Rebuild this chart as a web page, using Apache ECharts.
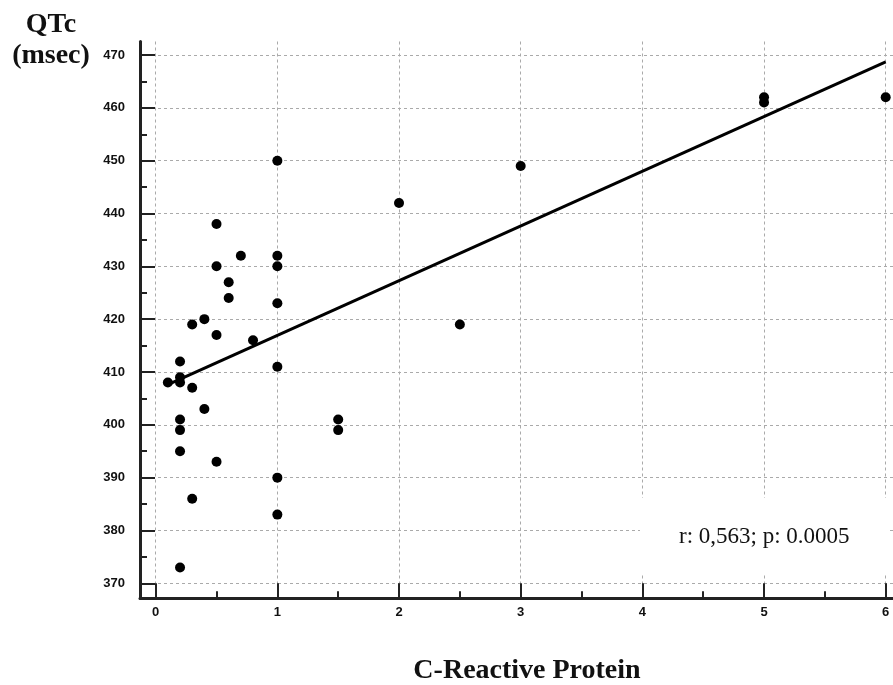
<!DOCTYPE html>
<html>
<head>
<meta charset="utf-8">
<script src="https://cdn.jsdelivr.net/npm/echarts@6/dist/echarts.min.js"></script>
<style>
  html, body { margin: 0; padding: 0; background: #fff; }
  #chart { width: 893px; height: 685px; }
</style>
</head>
<body>
<div id="chart"></div>
<script>
// CRP (mg/dl) vs QTc (msec)
const crp = [0.1, 0.2, 0.2, 0.2, 0.2, 0.2, 0.2, 0.2, 0.3, 0.3, 0.3, 0.4, 0.4,
  0.5, 0.5, 0.5, 0.5, 0.6, 0.6, 0.7, 0.8, 1, 1, 1, 1, 1, 1, 1, 1.5, 1.5, 2, 2.5, 3, 5, 5, 6];
const qtc = [408, 412, 409, 408, 401, 399, 395, 373, 419, 407, 386, 420, 403,
  438, 430, 417, 393, 427, 424, 432, 416, 450, 432, 430, 423, 411, 390, 383, 401, 399, 442, 419, 449, 462, 461, 462];

// regression line end points
const fitX = [0.1, 6];
const fitY = [407.6, 468.7];

// tick labels
const xTicks = [0, 1, 2, 3, 4, 5, 6];
const xMinor = [0.5, 1.5, 2.5, 3.5, 4.5, 5.5];
const yTicks = [370, 380, 390, 400, 410, 420, 430, 440, 450, 460, 470];
const yMinor = [375, 385, 395, 405, 415, 425, 435, 445, 455, 465];

const axisColor = "#222";
const gridLine = { show: true, lineStyle: { type: [3, 3], color: "#aaa", width: 1 } };
const labelFont = { fontFamily: "'Liberation Sans', Arial, sans-serif", fontWeight: "bold", fontSize: 13, color: "#111" };

const chart = echarts.init(document.getElementById("chart"));

const option = {
  backgroundColor: "#fff",
  animation: false,
  grid: { left: 140, right: 0, top: 41.5, bottom: 86.7 },
  xAxis: [
    {
      type: "value",
      min: -0.129,
      max: 6.06,
      axisLine: { onZero: false, lineStyle: { color: axisColor, width: 3 } },
      axisTick: { inside: true, length: 15, customValues: xTicks, lineStyle: { color: axisColor, width: 2 } },
      axisLabel: Object.assign({ customValues: xTicks, margin: 8 }, labelFont),
      splitLine: gridLine,
    },
    {
      // minor ticks only
      type: "value",
      position: "bottom",
      min: -0.129,
      max: 6.06,
      axisLine: { show: false, onZero: false },
      axisTick: { inside: true, length: 7, customValues: xMinor, lineStyle: { color: axisColor, width: 2 } },
      axisLabel: { show: false },
      splitLine: { show: false },
    },
  ],
  yAxis: [
    {
      type: "value",
      min: 367.16,
      max: 472.56,
      splitNumber: 10,
      axisLine: { show: true, onZero: false, lineStyle: { color: axisColor, width: 3 } },
      axisTick: { show: true, inside: true, length: 15, customValues: yTicks, lineStyle: { color: axisColor, width: 2 } },
      axisLabel: Object.assign({ customValues: yTicks, margin: 15 }, labelFont),
      splitLine: gridLine,
    },
    {
      // minor ticks only
      type: "value",
      position: "left",
      min: 367.16,
      max: 472.56,
      axisLine: { show: false, onZero: false },
      axisTick: { show: true, inside: true, length: 7, customValues: yMinor, lineStyle: { color: axisColor, width: 2 } },
      axisLabel: { show: false },
      splitLine: { show: false },
    },
  ],
  graphic: [
    {
      type: "text",
      x: 51,
      y: 9,
      style: {
        text: "QTc\n(msec)",
        font: "bold 28px 'Liberation Serif', 'Times New Roman', serif",
        fill: "#111",
        textAlign: "center",
        lineHeight: 31,
      },
    },
    {
      type: "text",
      x: 527,
      y: 657,
      style: {
        text: "C-Reactive Protein",
        font: "bold 28px 'Liberation Serif', 'Times New Roman', serif",
        fill: "#111",
        textAlign: "center",
      },
    },
    {
      type: "text",
      left: 640,
      top: 498,
      z: 50,
      style: {
        text: "r: 0,563; p: 0.0005",
        font: "23px 'Liberation Serif', 'Times New Roman', serif",
        fill: "#111",
        backgroundColor: "#fff",
        padding: [27, 39],
      },
    },
  ],
  series: [
    {
      type: "line",
      data: fitX.map((x, i) => [x, fitY[i]]),
      symbol: "none",
      lineStyle: { color: "#000", width: 3 },
      z: 3,
    },
    {
      type: "scatter",
      data: crp.map((x, i) => [x, qtc[i]]),
      symbol: "circle",
      symbolSize: 10,
      itemStyle: { color: "#000", opacity: 1 },
      z: 4,
    },
  ],
};

chart.setOption(option);
</script>
</body>
</html>
